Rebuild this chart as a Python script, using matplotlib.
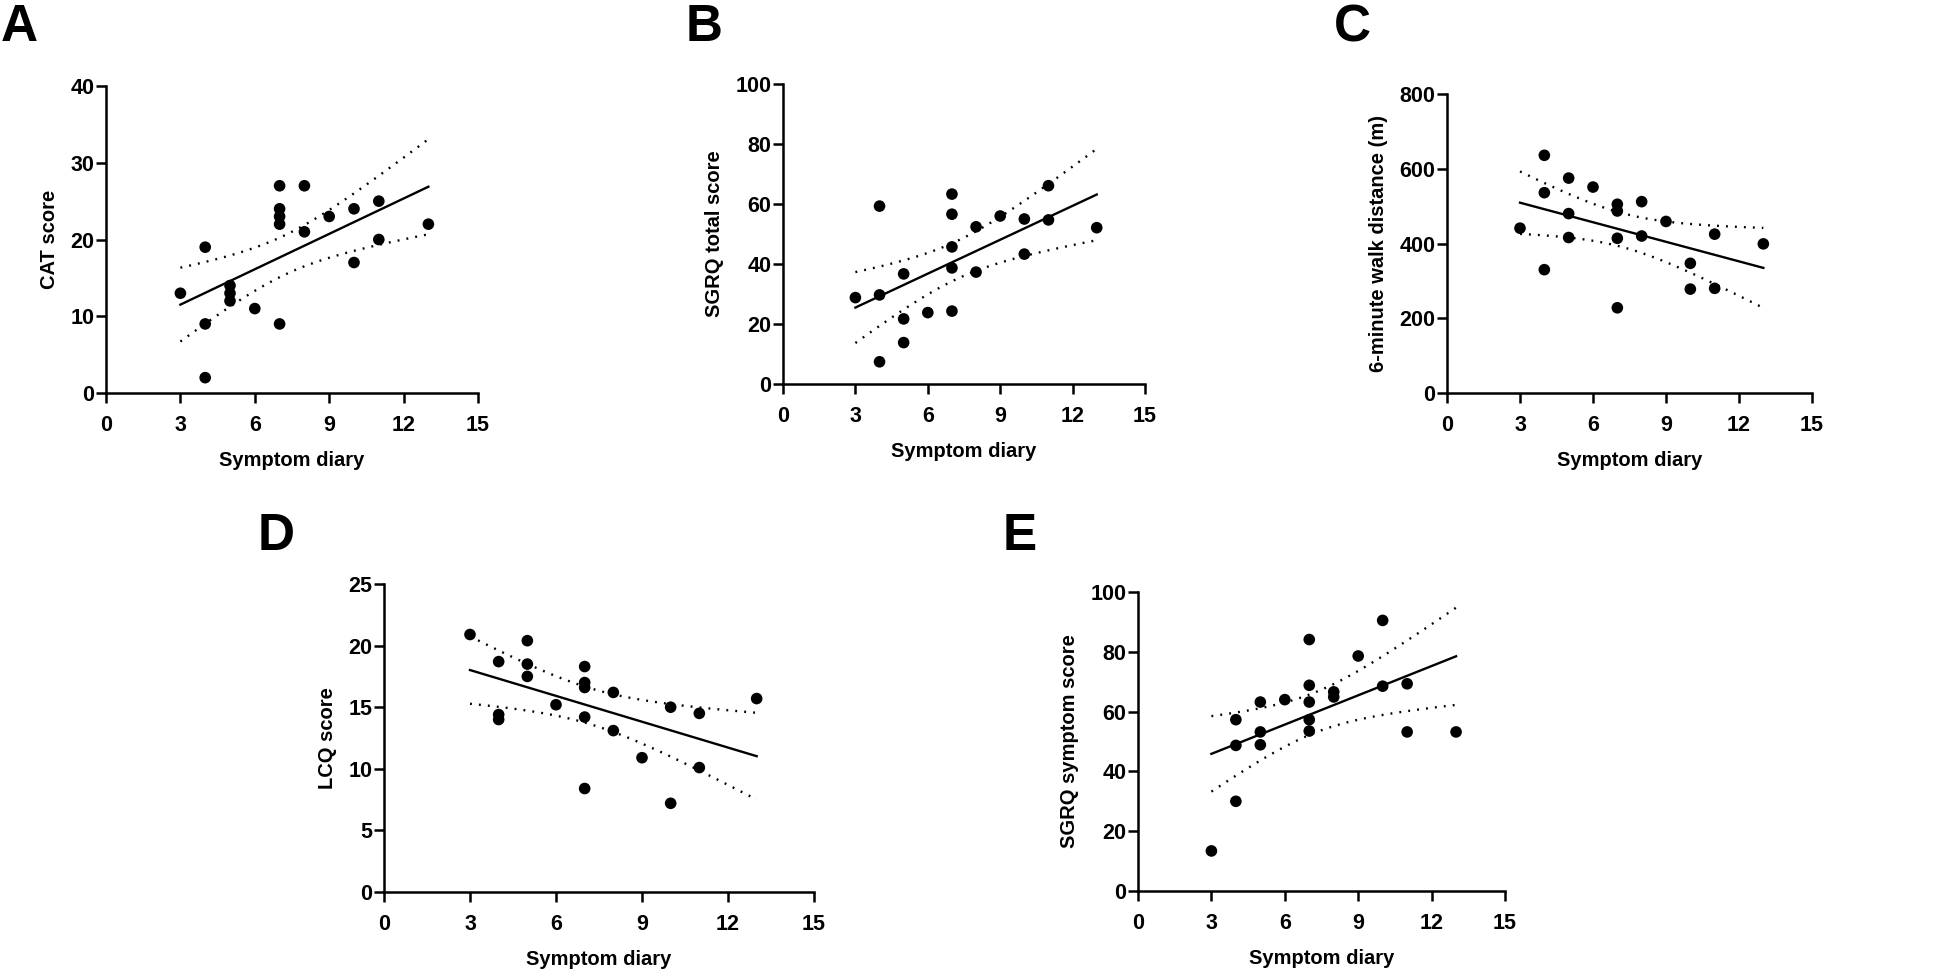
import numpy as np
import matplotlib
matplotlib.use("Agg")
import matplotlib.pyplot as plt

plt.rcParams['font.family'] = ['Liberation Sans', 'DejaVu Sans']

W, H = 1946, 977

# ---------- data ----------
x_common = [3, 4, 4, 4, 5, 5, 5, 6, 7, 7, 7, 7, 7, 8, 8, 9, 10, 10, 11, 11, 13]

cat_y = [13, 19, 9, 2, 14, 13, 12, 11, 27, 24, 23, 22, 9, 27, 21, 23, 24, 17, 25, 20, 22]

sgrq_tot_y = [28.8, 59.3, 29.7, 7.4, 36.7, 21.7, 13.8, 23.8, 63.3, 56.6, 45.7, 38.7, 24.3,
              52.4, 37.3, 56.0, 55.0, 43.3, 66.1, 54.7, 52.1]

walk_x = [3, 4, 4, 4, 5, 5, 5, 6, 7, 7, 7, 7, 8, 8, 9, 10, 10, 11, 11, 13]
walk_y = [441, 636, 536, 330, 575, 480, 416, 551, 505, 487, 414, 228, 512, 420, 459,
          347, 278, 425, 280, 399]

lcq_x = [3, 4, 4, 4, 5, 5, 5, 6, 7, 7, 7, 7, 7, 8, 8, 9, 10, 10, 11, 11, 13]
lcq_y = [20.9, 18.7, 14.4, 14.0, 20.4, 18.5, 17.5, 15.2, 18.3, 17.0, 16.6, 14.2, 8.4,
         16.2, 13.1, 10.9, 15.0, 7.2, 14.5, 10.1, 15.7]

sgrq_sym_y = [13.4, 57.3, 48.7, 30.0, 63.2, 53.2, 48.9, 64.0, 84.1, 68.8, 63.2, 57.3, 53.5,
              66.6, 64.9, 78.6, 90.5, 68.5, 69.3, 53.2, 53.2]

panels = [
    # letter, x, y, ylabel, ymax, ystep, axes box (left, top, right, bottom px), letter pos
    ("A", x_common, cat_y, "CAT score", 40, 10, (106, 86, 478, 393), (1, 3)),
    ("B", x_common, sgrq_tot_y, "SGRQ total score", 100, 20, (783, 84, 1145, 384), (686, 3)),
    ("C", walk_x, walk_y, "6-minute walk distance (m)", 800, 200, (1447, 94, 1812, 393), (1334, 3)),
    ("D", lcq_x, lcq_y, "LCQ score", 25, 5, (384, 584, 814, 892), (258, 512)),
    ("E", x_common, sgrq_sym_y, "SGRQ symptom score", 100, 20, (1138, 592, 1505, 891), (1003, 512)),
]

# two-sided 95% t quantiles by degrees of freedom
T975 = {18: 2.101, 19: 2.093}

fig = plt.figure(figsize=(W / 100, H / 100), dpi=100)

for letter, xs, ys, ylab, ymax, ystep, box, lpos in panels:
    l, t, r, b = box
    ax = fig.add_axes([l / W, 1 - b / H, (r - l) / W, (b - t) / H])
    xs = np.asarray(xs, float); ys = np.asarray(ys, float)

    # linear regression + 95% CI of the line
    n = len(xs)
    slope, icpt = np.polyfit(xs, ys, 1)
    resid = ys - (slope * xs + icpt)
    s = np.sqrt(np.sum(resid ** 2) / (n - 2))
    xm = xs.mean(); sxx = np.sum((xs - xm) ** 2)
    xg = np.linspace(xs.min(), xs.max(), 100)
    yg = slope * xg + icpt
    half = T975[n - 2] * s * np.sqrt(1 / n + (xg - xm) ** 2 / sxx)

    ax.plot(xg, yg, color="black", lw=1.7, zorder=3)
    ax.plot(xg, yg + half, color="black", lw=1.7, ls=(0, (0.8, 3.0)), zorder=2)
    ax.plot(xg, yg - half, color="black", lw=1.7, ls=(0, (0.8, 3.0)), zorder=2)
    ax.scatter(xs, ys, s=70, color="black", edgecolors="none", zorder=4, clip_on=False)

    ax.set_xlim(0, 15); ax.set_ylim(0, ymax)
    ax.set_xticks(np.arange(0, 16, 3))
    ax.set_yticks(np.arange(0, ymax + ystep / 2, ystep))
    for sp in ("top", "right"):
        ax.spines[sp].set_visible(False)
    for sp in ("left", "bottom"):
        ax.spines[sp].set_linewidth(1.8)
    ax.tick_params(axis="both", width=1.8, length=7, direction="out", labelsize=15.5)
    ax.tick_params(axis="x", pad=8.5)
    ax.tick_params(axis="y", pad=1.5)
    for lbl in ax.get_xticklabels() + ax.get_yticklabels():
        lbl.set_fontweight("bold")
    ax.set_xlabel("Symptom diary", fontsize=14.5, fontweight="bold", labelpad=11)
    ax.set_ylabel(ylab, fontsize=14.5, fontweight="bold", labelpad=8)

    fig.text(lpos[0] / W, 1 - lpos[1] / H, letter, fontsize=37, fontweight="bold",
             ha="left", va="top")

fig.savefig("out.png", dpi=100)
